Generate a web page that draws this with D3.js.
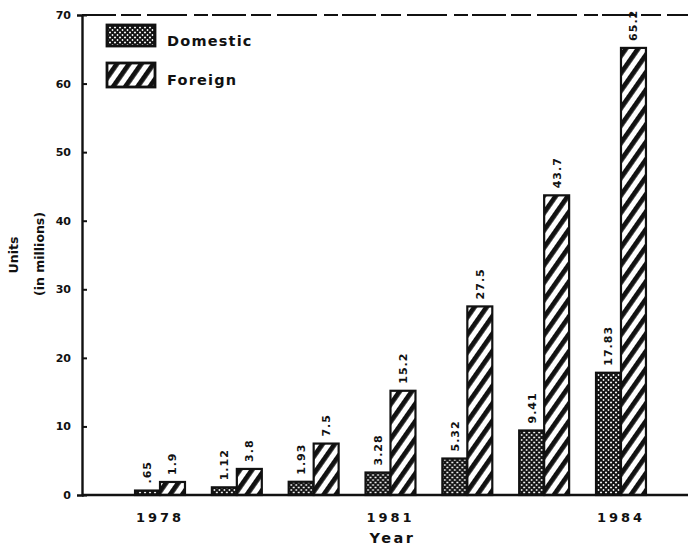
<!DOCTYPE html>
<html>
<head>
<meta charset="utf-8">
<script src="https://cdn.jsdelivr.net/npm/d3@7"></script>
<style>
  html, body { margin: 0; padding: 0; background: #fff; }
  svg { display: block; }
  text { font-family: "DejaVu Sans", sans-serif; fill: #111; }
</style>
</head>
<body>
<svg id="chart" width="688" height="550"></svg>
<script>
// Unit sales by year, domestic vs. foreign (millions)
const years = ["1978", "1979", "1980", "1981", "1982", "1983", "1984"];
const domestic = [0.65, 1.12, 1.93, 3.28, 5.32, 9.41, 17.83];
const foreign = [1.9, 3.8, 7.5, 15.2, 27.5, 43.7, 65.2];
const domesticLabels = [".65", "1.12", "1.93", "3.28", "5.32", "9.41", "17.83"];
const foreignLabels = ["1.9", "3.8", "7.5", "15.2", "27.5", "43.7", "65.2"];
const yTicks = [0, 10, 20, 30, 40, 50, 60, 70];
const yearTicks = ["1978", "1981", "1984"];
const seriesNames = ["Domestic", "Foreign"];

const svg = d3.select("#chart");
const ink = "#111";

// Fill patterns: cross-hatch for domestic, bold diagonal stripes for foreign
const defs = svg.append("defs");
const cross = defs.append("pattern")
  .attr("id", "pat-domestic").attr("patternUnits", "userSpaceOnUse")
  .attr("width", 5).attr("height", 5);
cross.append("rect").attr("width", 5).attr("height", 5).attr("fill", "#fff");
cross.append("path").attr("d", "M0,0L5,5M5,0L0,5")
  .attr("stroke", ink).attr("stroke-width", 1.9);
cross.append("path").attr("d", "M-1,4L1,6M4,-1L6,1M-1,1L1,-1M4,6L6,4")
  .attr("stroke", ink).attr("stroke-width", 1.9);

const stripe = defs.append("pattern")
  .attr("id", "pat-foreign").attr("patternUnits", "userSpaceOnUse")
  .attr("width", 10).attr("height", 10)
  .attr("patternTransform", "rotate(35)");
stripe.append("rect").attr("width", 10).attr("height", 10).attr("fill", "#fff");
stripe.append("rect").attr("width", 4.8).attr("height", 10).attr("fill", ink);

const fills = { Domestic: "url(#pat-domestic)", Foreign: "url(#pat-foreign)" };

// Scales
const x = d3.scaleBand().domain(years).range([121.6, 659.4])
  .paddingInner(0.35).paddingOuter(0.175);
const xs = d3.scaleBand().domain(seriesNames).range([0, x.bandwidth()]);
const y = d3.scaleLinear().domain([0, 70]).range([495, 15]);
const axisX = 82;

// Dashed frame line across the top
svg.append("line")
  .attr("x1", axisX).attr("x2", 688).attr("y1", y(70)).attr("y2", y(70))
  .attr("stroke", ink).attr("stroke-width", 2.2)
  .attr("stroke-dasharray", "34,5,20,6,40,7,14,4");

// Bars
const rows = years.map((yr, i) => ({
  year: yr,
  bars: [
    { name: "Domestic", value: domestic[i], label: domesticLabels[i] },
    { name: "Foreign", value: foreign[i], label: foreignLabels[i] }
  ]
}));

const groups = svg.append("g").selectAll("g").data(rows).join("g")
  .attr("transform", d => `translate(${x(d.year)},0)`);

groups.selectAll("rect").data(d => d.bars).join("rect")
  .attr("x", d => xs(d.name))
  .attr("y", d => y(d.value))
  .attr("width", xs.bandwidth())
  .attr("height", d => y(0) - y(d.value))
  .attr("fill", d => fills[d.name])
  .attr("stroke", ink).attr("stroke-width", 2.2);

// Value labels written vertically above each bar
groups.selectAll("text.val").data(d => d.bars).join("text")
  .attr("class", "val")
  .attr("transform", d => `translate(${xs(d.name) + xs.bandwidth() / 2},${y(d.value) - 7}) rotate(-90)`)
  .attr("dy", "0.36em")
  .attr("text-anchor", "start")
  .attr("font-size", 11).attr("font-weight", "bold")
  .attr("letter-spacing", 1)
  .text(d => d.label);

// Y axis with ticks crossing the line
const yAxis = svg.append("g").attr("transform", `translate(${axisX},0)`)
  .call(d3.axisLeft(y).tickValues(yTicks).tickSize(5).tickPadding(6));
yAxis.select(".domain").attr("stroke", ink).attr("stroke-width", 2.4);
yAxis.selectAll(".tick line").attr("x2", 5).attr("stroke", ink).attr("stroke-width", 2);
yAxis.selectAll(".tick text")
  .attr("font-family", "DejaVu Sans").attr("font-size", 11)
  .attr("font-weight", "bold").attr("fill", ink);

// X axis baseline and year labels
svg.append("line")
  .attr("x1", axisX).attr("x2", 688).attr("y1", y(0)).attr("y2", y(0))
  .attr("stroke", ink).attr("stroke-width", 2.4);
const xAxis = svg.append("g").attr("transform", `translate(0,${y(0)})`)
  .call(d3.axisBottom(x).tickValues(yearTicks).tickSize(0).tickPadding(18));
xAxis.select(".domain").remove();
xAxis.selectAll(".tick text")
  .attr("font-family", "DejaVu Sans").attr("font-size", 13)
  .attr("font-weight", "bold").attr("letter-spacing", 3).attr("fill", ink);

// Axis titles
svg.append("text")
  .attr("x", x("1981") + x.bandwidth() / 2 + 2).attr("y", 543)
  .attr("text-anchor", "middle")
  .attr("font-size", 14.5).attr("letter-spacing", 2.5).attr("font-weight", "bold")
  .text("Year");
svg.append("text")
  .attr("transform", "translate(14,255) rotate(-90)")
  .attr("text-anchor", "middle").attr("dy", "0.35em")
  .attr("font-size", 12.5).attr("font-weight", "bold")
  .text("Units");
svg.append("text")
  .attr("transform", "translate(40,254) rotate(-90)")
  .attr("text-anchor", "middle").attr("dy", "0.35em")
  .attr("font-size", 12.5).attr("font-weight", "bold")
  .text("(in millions)");

// Legend
const legend = svg.append("g");
const legendRows = [
  { name: "Domestic", top: 25, h: 21, ty: 41 },
  { name: "Foreign", top: 63, h: 24, ty: 80 }
];
legendRows.forEach(r => {
  legend.append("rect")
    .attr("x", 107).attr("y", r.top).attr("width", 48).attr("height", r.h)
    .attr("fill", fills[r.name]).attr("stroke", ink).attr("stroke-width", 2.8);
  legend.append("text")
    .attr("x", 167).attr("y", r.ty).attr("dy", "0.35em")
    .attr("font-size", 14.5).attr("font-weight", "bold").attr("letter-spacing", 1.2)
    .text(r.name);
});
</script>
</body>
</html>
